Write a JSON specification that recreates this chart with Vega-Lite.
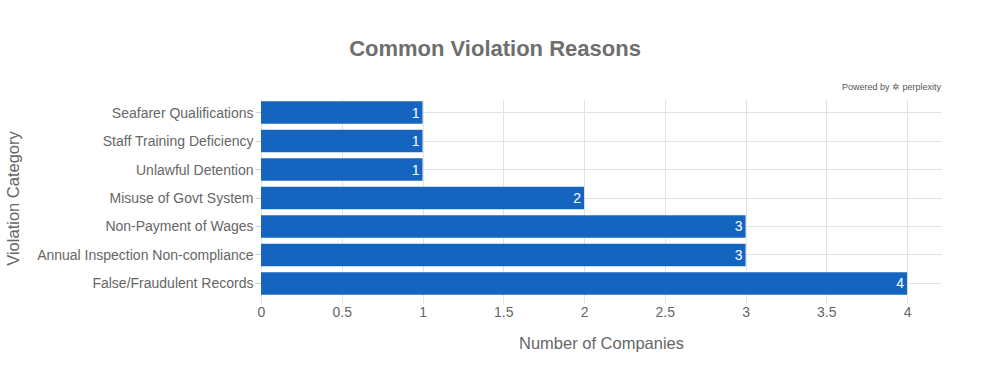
{
  "$schema": "https://vega.github.io/schema/vega-lite/v6.json",
  "width": 680,
  "height": 198,
  "autosize": {"type": "none"},
  "padding": {"left": 261, "top": 99, "right": 50, "bottom": 74},
  "background": "white",
  "title": {
    "text": "Common Violation Reasons",
    "anchor": "middle",
    "dx": -106,
    "offset": 22,
    "font": "Liberation Sans",
    "fontSize": 22,
    "fontWeight": "bold",
    "color": "#6e6e6e"
  },
  "config": {
    "view": {"stroke": null},
    "axis": {
      "labelFont": "Liberation Sans",
      "titleFont": "Liberation Sans",
      "labelColor": "#666666",
      "titleColor": "#666666",
      "labelFontSize": 14,
      "titleFontSize": 16.5,
      "titleFontWeight": "normal",
      "gridColor": "#e2e2e2",
      "tickColor": "#d0d0d0",
      "domain": false
    }
  },
  "data": {
    "values": [
      {"category": "Seafarer Qualifications", "count": 1},
      {"category": "Staff Training Deficiency", "count": 1},
      {"category": "Unlawful Detention", "count": 1},
      {"category": "Misuse of Govt System", "count": 2},
      {"category": "Non-Payment of Wages", "count": 3},
      {"category": "Annual Inspection Non-compliance", "count": 3},
      {"category": "False/Fraudulent Records", "count": 4}
    ]
  },
  "encoding": {
    "y": {
      "field": "category",
      "type": "nominal",
      "sort": null,
      "scale": {"paddingInner": 0.21, "paddingOuter": 0.08},
      "axis": {
        "title": "Violation Category",
        "titlePadding": 40,
        "grid": true,
        "ticks": true,
        "tickSize": 6,
        "labelPadding": 2,
        "labelOffset": 1,
        "labelLimit": 300
      }
    },
    "x": {
      "field": "count",
      "type": "quantitative",
      "scale": {"domain": [0, 4.21], "nice": false},
      "axis": {
        "title": "Number of Companies",
        "values": [0, 0.5, 1, 1.5, 2, 2.5, 3, 3.5, 4],
        "format": "~g",
        "labelFlush": false,
        "ticks": true,
        "tickSize": 6,
        "tickColor": "#e2e2e2",
        "labelPadding": 2,
        "titlePadding": 16,
        "grid": true
      }
    }
  },
  "layer": [
    {"mark": {"type": "bar", "color": "#1565c0"}},
    {
      "mark": {"type": "text", "align": "right", "dx": -3, "dy": 1, "color": "white", "font": "Liberation Sans", "fontSize": 14},
      "encoding": {"text": {"field": "count", "type": "quantitative"}}
    },
    {
      "data": {"values": [{"t": "Powered by ✲ perplexity"}]},
      "mark": {"type": "text", "align": "right", "baseline": "bottom", "x": 680, "y": -7, "font": "Liberation Sans", "fontSize": 9, "color": "#555555"},
      "encoding": {"text": {"field": "t", "type": "nominal"}, "x": null, "y": null}
    }
  ]
}
